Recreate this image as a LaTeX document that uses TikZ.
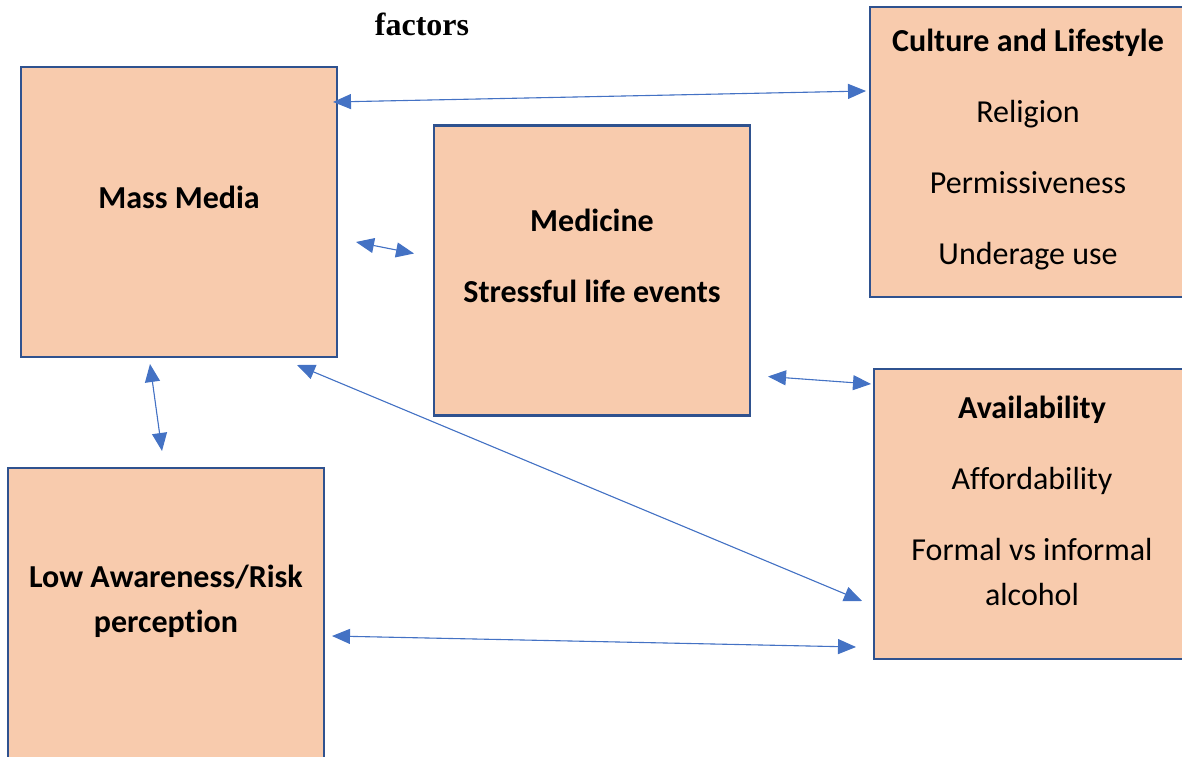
\documentclass[tikz,border=0pt]{standalone}
\usepackage{fontspec}
\setmainfont{Carlito}[Ligatures=NoCommon]
\newfontfamily\titlefont{Liberation Serif}
\usetikzlibrary{arrows.meta}
\definecolor{boxfill}{HTML}{F8CBAD}
\definecolor{boxline}{HTML}{2F528F}
\definecolor{linkblue}{HTML}{4472C4}
\tikzstyle{factor} = [rectangle, 
minimum width=316pt, 
minimum height=290pt, 
outer sep=0pt, 
line width=2.5pt, 
draw=boxline, 
fill=boxfill]
\tikzstyle{factortext} = [align=center, 
inner sep=0pt, 
font=\fontsize{32}{45}\selectfont]
\tikzstyle{link} = [<->, line width=1.1pt, draw=linkblue, 
>={Triangle[length=18pt,width=15pt]}, fill=linkblue]

\begin{document}
\begin{tikzpicture}[x=1pt,y=1pt]
\useasboundingbox (0,0) rectangle (1182,756);

\node (title) [font=\titlefont\bfseries\fontsize{32}{38}\selectfont] at (422,732) {factors};

\node (media) [factor] at (179,544) {};
\node (medicine) [factor] at (592,485.5) {};
\node (culture) [factor] at (1028,604) {};
\node (avail) [factor] at (1032,242) {};
\node (aware) [factor] at (166,143) {};

\node (mediatext) [factortext, font=\bfseries\fontsize{32}{45}\selectfont] at ([yshift=15pt]media) {Mass Media};
\node (medicinetext) [factortext, font=\bfseries\fontsize{32}{45}\selectfont] at ([yshift=14.5pt]medicine) {Medicine\\[26pt]Stressful life events};
\node (culturetext) [factortext] at ([yshift=2.5pt]culture) {\textbf{Culture and Lifestyle}\\[26pt]Religion\\[26pt]Permissiveness\\[26pt]Underage use};
\node (availtext) [factortext] at ([yshift=13.5pt]avail) {\textbf{Availability}\\[26pt]Affordability\\[26pt]Formal vs informal\\alcohol};
\node (awaretext) [factortext, font=\bfseries\fontsize{32}{45}\selectfont] at ([yshift=12pt]aware) {Low Awareness/Risk\\perception};

% two-way links between the factors
\draw[link] ([xshift=-4pt,yshift=-35pt]media.north east) -- ([xshift=-4pt,yshift=-84pt]culture.north west);
\draw[link] ([xshift=19pt,yshift=-175pt]media.north east) -- ([xshift=-20pt,yshift=-128pt]medicine.north west);
\draw[link] ([xshift=129pt,yshift=-7pt]media.south west) -- ([xshift=154pt,yshift=17pt]aware.north west);
\draw[link] ([xshift=-40pt,yshift=-8pt]media.south east) -- ([xshift=-12pt,yshift=-232pt]avail.north west);
\draw[link] ([xshift=18pt,yshift=39pt]medicine.south east) -- ([xshift=-3pt,yshift=-15pt]avail.north west);
\draw[link] ([xshift=8pt,yshift=-168pt]aware.north east) -- ([xshift=-18pt,yshift=12pt]avail.south west);

\end{tikzpicture}
\end{document}
